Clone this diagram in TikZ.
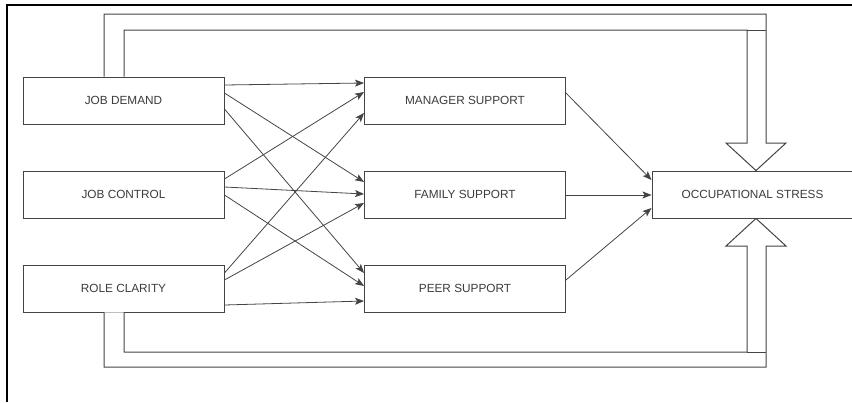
\documentclass[tikz,border=0pt]{standalone}
\usepackage{fontspec}
\setmainfont{Liberation Sans}
\usetikzlibrary{arrows.meta,calc}
\definecolor{linegray}{HTML}{444444}
\definecolor{textgray}{HTML}{3C3C3C}
\tikzset{
  box/.style={draw=linegray, line width=0.9pt, fill=white, minimum width=201pt, minimum height=47pt, inner sep=0pt, text=textgray, font=\fontsize{11.8}{14}\selectfont},
  link/.style={draw=linegray, line width=0.8pt, -{Stealth[length=9pt,width=7pt,inset=2pt]}},
  fatarrow/.style={draw=linegray, line width=1pt, fill=white, line join=miter},
}
\begin{document}
\begin{tikzpicture}[x=1pt,y=-1pt]
    \useasboundingbox (0,0) rectangle (852,402);
      \draw[line width=2.5pt] (7,402) -- (7,5) -- (852,5);
      \node[box] (jobdemand) at (123.5,100.5) {JOB DEMAND};
      \node[box] (jobcontrol) at (123.5,194.5) {JOB CONTROL};
      \node[box] (roleclarity) at (123.5,288.5) {ROLE CLARITY};
      \node[box] (manager) at (465,100.5) {MANAGER SUPPORT};
      \node[box] (family) at (465,194.5) {FAMILY SUPPORT};
      \node[box] (peer) at (465,288.5) {PEER SUPPORT};
      \node[box] (stress) at (752.5,194.5) {OCCUPATIONAL STRESS};
      \coordinate (tiptop) at ($(stress.north)+(3.5,0)$);
      \coordinate (tipbottom) at ($(stress.south)+(3.5,0)$);
      \draw[link] ($(jobdemand.east)+(0,-15.5)$) -- ($(manager.west)+(0,-17.5)$);
      \draw[link] ($(jobdemand.east)+(0,-7.5)$) -- ($(family.west)+(0,-12.5)$);
      \draw[link] ($(jobdemand.east)+(0,8.5)$) -- ($(peer.west)+(0,-15.5)$);
      \draw[link] ($(jobcontrol.east)+(0,-15.5)$) -- ($(manager.west)+(0,-8.5)$);
      \draw[link] ($(jobcontrol.east)+(0,-7.5)$) -- ($(family.west)+(0,-0.5)$);
      \draw[link] ($(jobcontrol.east)+(0,0.5)$) -- ($(peer.west)+(0,-2.5)$);
      \draw[link] ($(roleclarity.east)+(0,-15.5)$) -- ($(manager.west)+(0,12.5)$);
      \draw[link] ($(roleclarity.east)+(0,-8.5)$) -- ($(family.west)+(0,8.5)$);
      \draw[link] ($(roleclarity.east)+(0,16.5)$) -- ($(peer.west)+(0,12.5)$);
      \draw[link] ($(manager.east)+(0,-7.5)$) -- ($(stress.west)+(0,-14.5)$);
      \draw[link] ($(family.east)+(0,0.5)$) -- ($(stress.west)+(0,0.5)$);
      \draw[link] ($(peer.east)+(0,-8.5)$) -- ($(stress.west)+(0,13.5)$);
      \draw[fatarrow] ($(jobdemand.north)+(-19.5,0)$) |- (766,14) |- (786,143) -- (tiptop) -- (726,143) -| (747,30) -| ($(jobdemand.north)+(0.5,0)$);
      \draw[fatarrow] (747,30) -- (766,30);
      \draw[fatarrow] ($(roleclarity.south)+(-19.5,0)$) |- (766,367) |- (786,246) -- (tipbottom) -- (726,246) -| (747,352) -| ($(roleclarity.south)+(0.5,0)$);
      \draw[fatarrow] (747,352) -- (766,352);
    \end{tikzpicture}
\end{document}
